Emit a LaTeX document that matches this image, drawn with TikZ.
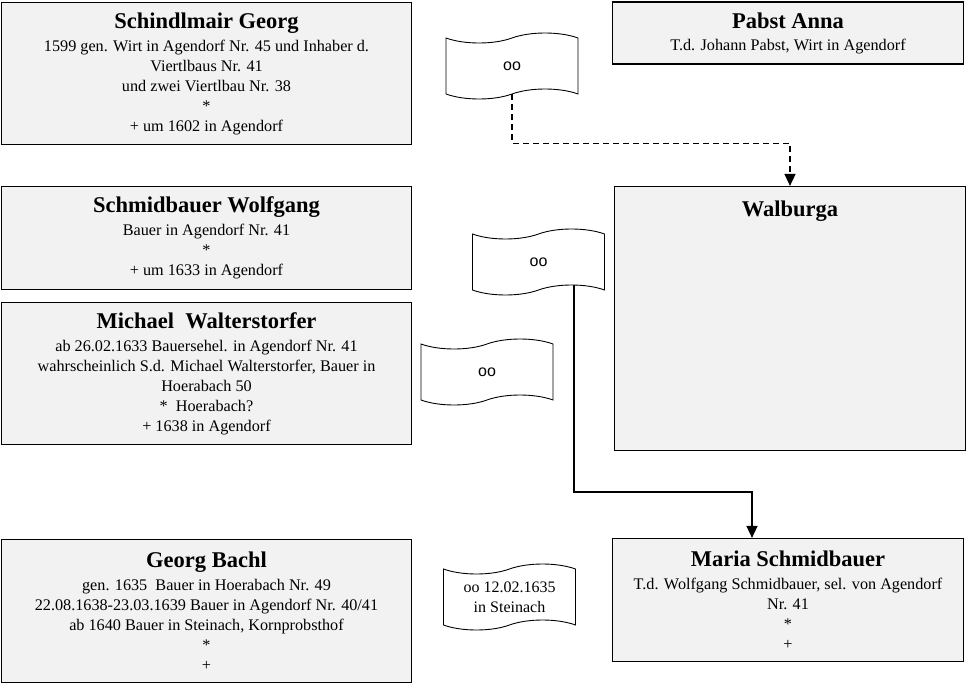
\documentclass[tikz,border=0pt]{standalone}
\usepackage{fontspec}
\setmainfont{Liberation Serif}
\newfontfamily\ehefont{Liberation Sans}
\usepackage{tikz}
\usetikzlibrary{calc, arrows.meta, shapes.symbols}
\definecolor{boxGrey}{HTML}{F2F2F2}
\tikzset{
  box/.style  = {draw=black, line width=1.2pt, fill=boxGrey, align=center,
                 inner sep=4pt, font=\fontsize{16.2}{20}\selectfont},
  ehe/.style  = {tape, draw=black, line width=0.9pt, fill=white, align=center,
                 tape bend height=10pt, minimum width=132pt, minimum height=66pt,
                 inner sep=2pt, font=\fontsize{16}{20}\selectfont},
  fl/.style   = {-{Triangle[length=12pt, width=11pt]}, draw=black, line width=1.6pt},
  fld/.style  = {fl, dash pattern=on 6pt off 4pt}
}
\newcommand{\titel}[1]{{\fontsize{22.5}{26}\selectfont\bfseries #1}}

\begin{document}
\begin{tikzpicture}[x=1pt, y=-1pt]
  \useasboundingbox (0,0) rectangle (967,685);
  % linke Spalte
  \node[box, minimum width=410pt, minimum height=142pt] (georg) at (206.5,73.5)
    {\titel{Schindlmair Georg}\\[3pt]1599 gen. Wirt in Agendorf Nr. 45 und Inhaber d.\\Viertlbaus Nr. 41\\und zwei Viertlbau Nr. 38\\*\\+ um 1602 in Agendorf};
  \node[box, minimum width=410pt, minimum height=103pt] (wolfgang) at (206.5,238)
    {\titel{Schmidbauer Wolfgang}\\[3pt]Bauer in Agendorf Nr. 41\\*\\+ um 1633 in Agendorf};
  \node[box, minimum width=410pt, minimum height=142pt] (michael) at (206.5,373.5)
    {\titel{Michael\ \ Walterstorfer}\\[3pt]ab 26.02.1633 Bauersehel. in Agendorf Nr. 41\\wahrscheinlich S.d. Michael Walterstorfer, Bauer in\\Hoerabach 50\\*\ \ Hoerabach?\\+ 1638 in Agendorf};
  \node[box, minimum width=410pt, minimum height=143pt] (bachl) at (206.5,611)
    {\titel{Georg Bachl}\\[3pt]gen. 1635\ \ Bauer in Hoerabach Nr. 49\\22.08.1638-23.03.1639 Bauer in Agendorf Nr. 40/41\\ab 1640 Bauer in Steinach, Kornprobsthof\\*\\+};
  % rechte Spalte
  \node[box, minimum width=351pt, minimum height=62pt] (anna) at (788,33)
    {\titel{Pabst Anna}\\[2pt]T.d. Johann Pabst, Wirt in Agendorf};
  \node[box, minimum width=351pt, minimum height=264pt, text depth=220pt] (walburga) at (790,318.5)
    {\titel{Walburga}};
  \node[box, minimum width=351pt, minimum height=123pt] (maria) at (788,600)
    {\titel{Maria Schmidbauer}\\[3pt]T.d. Wolfgang Schmidbauer, sel. von Agendorf\\Nr. 41\\*\\+};
  % Ehen
  \node[ehe, font=\ehefont\fontsize{16}{20}\selectfont] (ehe1) at (512,66) {oo};
  \node[ehe, font=\ehefont\fontsize{16}{20}\selectfont] (ehe2) at (538.5,262) {oo};
  \node[ehe, font=\ehefont\fontsize{16}{20}\selectfont] (ehe3) at (487,372) {oo};
  \node[ehe] (ehe4) at (509.5,597) {oo 12.02.1635\\in Steinach};
  % Kinder
  \coordinate (knick) at (574,492);
  \draw[fld] (ehe1.south) -- ++(0,49) -| (walburga.north);
  \draw[fl] ($(ehe2.south -| knick)+(0,-5)$) -- (knick) -| ($(maria.north)+(-36,0)$);
\end{tikzpicture}
\end{document}
